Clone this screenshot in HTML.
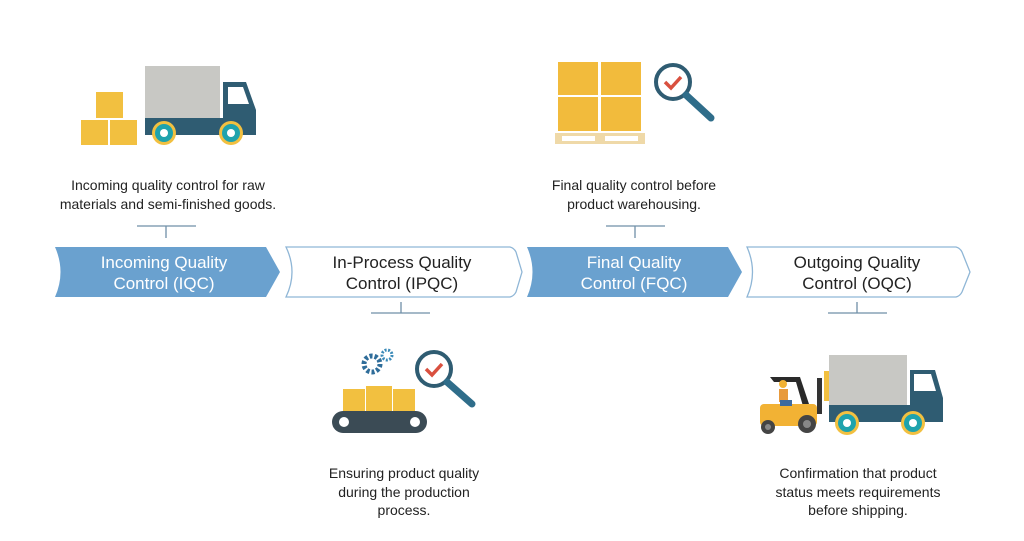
<!DOCTYPE html>
<html><head><meta charset="utf-8"><style>
html,body{margin:0;padding:0;background:#fff;}
svg{display:block;}
text{font-family:"Liberation Sans",sans-serif;}
</style></head><body>
<svg width="1024" height="541" viewBox="0 0 1024 541" xmlns="http://www.w3.org/2000/svg">
<!-- chevrons -->
<path d="M55,247 L266,247 L280,272 L266,297 L55,297 Q66,272 55,247 Z" fill="#6aa1cf"/>
<path d="M286,247 L510,247 Q514,248 516,252 L522,272 L516,292 Q514,296 510,297 L286,297 Q298,272 286,247 Z" fill="#fff" stroke="#8fb6d6" stroke-width="1.3"/>
<path d="M527,247 L728,247 L742,272 L728,297 L527,297 Q538,272 527,247 Z" fill="#6aa1cf"/>
<path d="M747,247 L956,247 Q960,248 962,252 L970,272 L962,292 Q960,296 956,297 L747,297 Q758,272 747,247 Z" fill="#fff" stroke="#8fb6d6" stroke-width="1.3"/>
<g font-size="17" text-anchor="middle">
<text x="164" y="268" fill="#fff">Incoming Quality</text>
<text x="164" y="289" fill="#fff">Control (IQC)</text>
<text x="402" y="268" fill="#222">In-Process Quality</text>
<text x="402" y="289" fill="#222">Control (IPQC)</text>
<text x="634" y="268" fill="#fff">Final Quality</text>
<text x="634" y="289" fill="#fff">Control (FQC)</text>
<text x="857" y="268" fill="#222">Outgoing Quality</text>
<text x="857" y="289" fill="#222">Control (OQC)</text>
</g>
<!-- connectors -->
<g stroke="#6f8fa8" stroke-width="1.3">
<line x1="137" y1="226" x2="196" y2="226"/><line x1="166" y1="226" x2="166" y2="238"/>
<line x1="606" y1="226" x2="665" y2="226"/><line x1="635" y1="226" x2="635" y2="238"/>
<line x1="371" y1="313" x2="430" y2="313"/><line x1="401" y1="302" x2="401" y2="313"/>
<line x1="828" y1="313" x2="887" y2="313"/><line x1="857" y1="302" x2="857" y2="313"/>
</g>
<!-- descriptions -->
<g font-size="14" fill="#222" text-anchor="middle">
<text x="168" y="190">Incoming quality control for raw</text>
<text x="168" y="209">materials and semi-finished goods.</text>
<text x="634" y="190">Final quality control before</text>
<text x="634" y="209">product warehousing.</text>
<text x="404" y="478">Ensuring product quality</text>
<text x="404" y="497">during the production</text>
<text x="404" y="515">process.</text>
<text x="858" y="478">Confirmation that product</text>
<text x="858" y="497">status meets requirements</text>
<text x="858" y="515">before shipping.</text>
</g>
<!-- IQC truck -->
<g>
<rect x="96" y="92" width="27" height="26" fill="#f2c040"/>
<rect x="81" y="120" width="27" height="25" fill="#f2c040"/>
<rect x="110" y="120" width="27" height="25" fill="#f2c040"/>
<rect x="145" y="66" width="75" height="55" fill="#c8c8c4"/>
<path d="M145,118 L223,118 L223,82 L246,82 L256,110 L256,135 L145,135 Z" fill="#2f5c72"/>
<path d="M228,87 L243,87 L249,104 L228,104 Z" fill="#fff"/>
<circle cx="164" cy="133" r="12" fill="#f2c040"/><circle cx="164" cy="133" r="9" fill="#1fa3ad"/><circle cx="164" cy="133" r="4" fill="#fff"/>
<circle cx="231" cy="133" r="12" fill="#f2c040"/><circle cx="231" cy="133" r="9" fill="#1fa3ad"/><circle cx="231" cy="133" r="4" fill="#fff"/>
</g>
<!-- FQC pallet -->
<g>
<rect x="558" y="62" width="40" height="33" fill="#f2bb3c"/>
<rect x="601" y="62" width="40" height="33" fill="#f2bb3c"/>
<rect x="558" y="97" width="40" height="34" fill="#f2bb3c"/>
<rect x="601" y="97" width="40" height="34" fill="#f2bb3c"/>
<rect x="555" y="133" width="90" height="11" fill="#efd9a8"/>
<rect x="562" y="136" width="33" height="5" fill="#fff"/><rect x="605" y="136" width="33" height="5" fill="#fff"/>
<circle cx="673" cy="82" r="17" fill="#fff" stroke="#2f5c72" stroke-width="4"/>
<path d="M665,82 L671,88 L681,77" fill="none" stroke="#d9503f" stroke-width="3.5"/>
<line x1="686" y1="95" x2="711" y2="118" stroke="#2f6d8a" stroke-width="7" stroke-linecap="round"/>
</g>
<!-- IPQC conveyor -->
<g>
<circle cx="372" cy="364" r="8" fill="none" stroke="#2f6d9a" stroke-width="5" stroke-dasharray="3 2"/>
<circle cx="387" cy="355" r="5" fill="none" stroke="#3a8ab8" stroke-width="3" stroke-dasharray="2 1.5"/>
<rect x="343" y="389" width="22" height="22" fill="#f2c040"/>
<rect x="366" y="386" width="26" height="25" fill="#f2c040"/>
<rect x="393" y="389" width="22" height="22" fill="#f2c040"/>
<rect x="332" y="411" width="95" height="22" rx="11" fill="#3b4b55"/>
<circle cx="344" cy="422" r="5" fill="#fff"/><circle cx="415" cy="422" r="5" fill="#fff"/>
<circle cx="434" cy="369" r="17" fill="#fff" stroke="#2f5c72" stroke-width="4"/>
<path d="M426,369 L432,375 L442,364" fill="none" stroke="#d9503f" stroke-width="3.5"/>
<line x1="447" y1="382" x2="472" y2="404" stroke="#2f6d8a" stroke-width="7" stroke-linecap="round"/>
</g>
<!-- OQC forklift truck -->
<g>
<rect x="829" y="355" width="78" height="51" fill="#c8c8c4"/>
<path d="M829,405 L910,405 L910,370 L935,370 L943,398 L943,422 L829,422 Z" fill="#2f5c72"/>
<path d="M914,374 L931,374 L936,391 L914,391 Z" fill="#fff"/>
<circle cx="847" cy="423" r="12" fill="#f2c040"/><circle cx="847" cy="423" r="9" fill="#1fa3ad"/><circle cx="847" cy="423" r="4" fill="#fff"/>
<circle cx="913" cy="423" r="12" fill="#f2c040"/><circle cx="913" cy="423" r="9" fill="#1fa3ad"/><circle cx="913" cy="423" r="4" fill="#fff"/>
<rect x="824" y="371" width="5" height="30" fill="#f2c040"/>
<rect x="817" y="378" width="5" height="36" fill="#333"/>
<path d="M770,377 L800,377 L812,413 L805,413 L796,382 L774,382 Z" fill="#2a2a2a"/>
<rect x="760" y="404" width="57" height="22" rx="4" fill="#f2b234"/>
<circle cx="783" cy="384" r="4" fill="#f2b234"/>
<rect x="779" y="389" width="9" height="13" fill="#e89a3c"/>
<rect x="780" y="400" width="12" height="6" fill="#3d6ba0"/>
<circle cx="768" cy="427" r="7" fill="#444"/><circle cx="768" cy="427" r="3" fill="#888"/>
<circle cx="807" cy="424" r="9" fill="#444"/><circle cx="807" cy="424" r="4" fill="#888"/>
</g>
</svg>
</body></html>
